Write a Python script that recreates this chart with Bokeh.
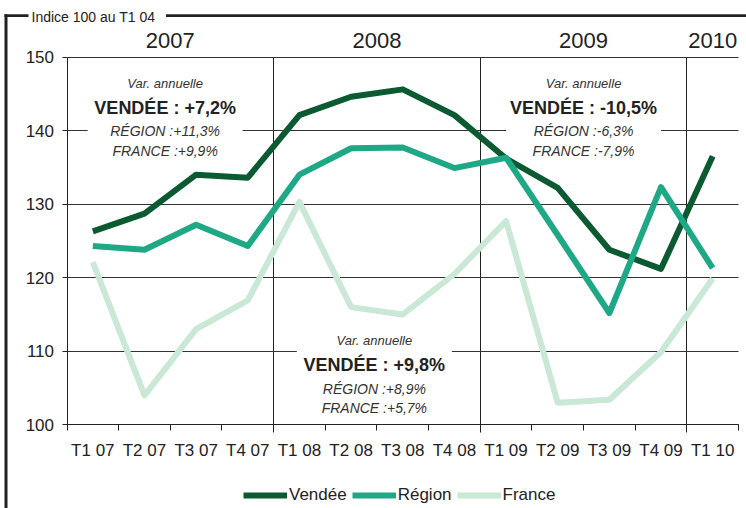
from bokeh.plotting import figure
from bokeh.models import (Range1d, FixedTicker, LinearAxis, Label, BoxAnnotation,
                          Legend, LegendItem)
from bokeh.embed import file_html
from bokeh.resources import INLINE

# ---------------- data ----------------
categories = ["T1 07", "T2 07", "T3 07", "T4 07", "T1 08", "T2 08", "T3 08",
              "T4 08", "T1 09", "T2 09", "T3 09", "T4 09", "T1 10"]
vendee = [126.3, 128.7, 134.0, 133.6, 142.1, 144.6, 145.6, 142.1, 136.2, 132.2, 123.8, 121.2, 136.5]
region = [124.3, 123.8, 127.2, 124.3, 134.0, 137.6, 137.7, 134.9, 136.3, 125.8, 115.2, 132.3, 121.3]
france = [122.1, 104.0, 113.0, 116.9, 130.3, 116.0, 115.0, 120.5, 127.7, 103.0, 103.4, 109.9, 119.9]
series_names = ["Vendée", "Région", "France"]
years = ["2007", "2008", "2009", "2010"]
y_ticks = [100, 110, 120, 130, 140, 150]
title_text = "Indice 100 au T1 04"
var_title = "Var. annuelle"
var_vendee = ["VENDÉE : +7,2%", "VENDÉE : +9,8%", "VENDÉE : -10,5%"]
var_region = ["RÉGION :+11,3%", "RÉGION :+8,9%", "RÉGION :-6,3%"]
var_france = ["FRANCE :+9,9%", "FRANCE :+5,7%", "FRANCE :-7,9%"]

colors = ["#0b5a31", "#1ea886", "#c9e8d6"]
FONT = "Liberation Sans"
INK = "#222222"
W, H = 746, 508

# plot-area layout in pixels (the frame covers the whole canvas)
PL, PR, PT, PB = 66.5, 738.0, 56.5, 424.3
n = len(categories)
ymin, ymax = min(y_ticks), max(y_ticks)
pxu = (PR - PL) / n                 # px per x unit
pyu = (PB - PT) / (ymax - ymin)     # px per y unit
x_start = -PL / pxu
x_end = n + (W - PR) / pxu
y_top = ymax + PT / pyu
y_bot = ymin - (H - PB) / pyu

def X(px):
    return x_start + px / pxu

def Y(py):
    return y_top - py / pyu

xs = [i + 0.5 for i in range(n)]

p = figure(width=W, height=H, x_range=Range1d(x_start, x_end), y_range=Range1d(y_bot, y_top),
           output_backend="svg", toolbar_location=None,
           min_border_left=0, min_border_right=0, min_border_top=0, min_border_bottom=0,
           outline_line_color=None, background_fill_color="white", border_fill_color="white")

# ---- x axis (labels at category centres, tick marks at boundaries)
xa = p.xaxis[0]
xa.fixed_location = ymin
xa.bounds = (0, n)
xa.ticker = FixedTicker(ticks=xs, minor_ticks=list(range(n + 1)))
xa.major_label_overrides = {x: c for x, c in zip(xs, categories)}
xa.major_tick_out = 0
xa.major_tick_in = 0
xa.minor_tick_out = 6
xa.minor_tick_in = 0
xa.minor_tick_line_color = INK
xa.axis_line_color = INK
xa.major_label_text_font = FONT
xa.major_label_text_font_size = "17px"
xa.major_label_text_color = INK
xa.major_label_standoff = 10

# ---- y axis
ya = p.yaxis[0]
ya.fixed_location = 0
ya.bounds = (ymin, ymax)
ya.ticker = FixedTicker(ticks=y_ticks)
ya.major_tick_out = 5
ya.major_tick_in = 0
ya.minor_tick_line_color = None
ya.axis_line_color = INK
ya.major_tick_line_color = INK
ya.major_label_text_font = FONT
ya.major_label_text_font_size = "17px"
ya.major_label_text_color = INK
ya.major_label_standoff = 8

# ---- year axis on top
year_pos = []
for yr in years:
    idx = [i for i, c in enumerate(categories) if c.endswith(yr[-2:])]
    year_pos.append(sum(xs[i] for i in idx) / len(idx))
top = LinearAxis(ticker=FixedTicker(ticks=year_pos), fixed_location=ymax,
                 major_label_overrides={x: y for x, y in zip(year_pos, years)})
top.axis_line_color = None
top.major_tick_line_color = None
top.minor_tick_line_color = None
top.major_label_text_font = FONT
top.major_label_text_font_size = "22px"
top.major_label_text_color = INK
top.major_label_standoff = 3
p.add_layout(top, "above")

# ---- grids
yg = p.ygrid[0]
yg.ticker = FixedTicker(ticks=y_ticks)
yg.grid_line_color = "#333333"
yg.grid_line_width = 1
xg = p.xgrid[0]
xg.ticker = FixedTicker(ticks=[i for i in range(1, n) if categories[i].startswith("T1")])
xg.grid_line_color = INK
xg.grid_line_width = 1
if "cross_bounds" in yg.properties():
    yg.cross_bounds = (0, n)
    xg.cross_bounds = (Y(PB + 8), ymax)

# ---- series
renderers = []
for vals, col in zip([vendee, region, france], colors):
    r = p.line(xs, vals, line_color=col, line_width=6, line_join="round")
    renderers.append(r)

# ---- annotation blocks (white gaps in gridlines + texts)
blocks = [
    dict(cx=1.9, grid=140, ys=[146.4, 143.0, 139.9, 137.2]),
    dict(cx=5.95, grid=110, ys=[111.5, 108.1, 104.9, 102.3]),
    dict(cx=10.0, grid=140, ys=[146.4, 143.0, 139.9, 137.2]),
]
for b, tv, tr, tf in zip(blocks, var_vendee, var_region, var_france):
    p.add_layout(BoxAnnotation(left=b["cx"] - 1.5, right=b["cx"] + 1.5,
                               bottom=b["grid"] - 0.4, top=b["grid"] + 0.4,
                               fill_color="white", fill_alpha=1.0, line_color=None))
    specs = [(var_title, "13px", "italic", "#333333"),
             (tv, "18px", "bold", INK),
             (tr, "14px", "italic", "#333333"),
             (tf, "14px", "italic", "#333333")]
    for (txt, fs, st, colr), yy in zip(specs, b["ys"]):
        p.add_layout(Label(x=b["cx"], y=yy, text=txt, text_font=FONT, text_font_size=fs,
                           text_font_style=st, text_color=colr, text_align="center",
                           text_baseline="middle"))

# ---- frame bracket with title
def bar(l, r, t, b):
    return BoxAnnotation(left=X(l), right=X(r), top=Y(t), bottom=Y(b),
                         fill_color=INK, fill_alpha=1.0, line_color=None)

p.add_layout(bar(4, 7, 13.7, H))
p.add_layout(bar(4, 28, 13.7, 16.4))
p.add_layout(bar(165.5, W, 13.7, 16.4))
p.add_layout(Label(x=X(31), y=Y(16), text=title_text,
                   text_font=FONT, text_font_size="14px", text_color=INK,
                   text_baseline="middle", text_align="left"))

# ---- legend
legend = Legend(items=[LegendItem(label=nm, renderers=[r]) for nm, r in zip(series_names, renderers)],
                location=(243, 3), orientation="horizontal",
                glyph_width=44, glyph_height=20, label_standoff=2, spacing=5,
                padding=0, margin=0, border_line_color=None, background_fill_alpha=0,
                label_text_font=FONT, label_text_font_size="17px",
                label_text_color=INK)
p.add_layout(legend)

open("out.html", "w").write(file_html(p, INLINE))
